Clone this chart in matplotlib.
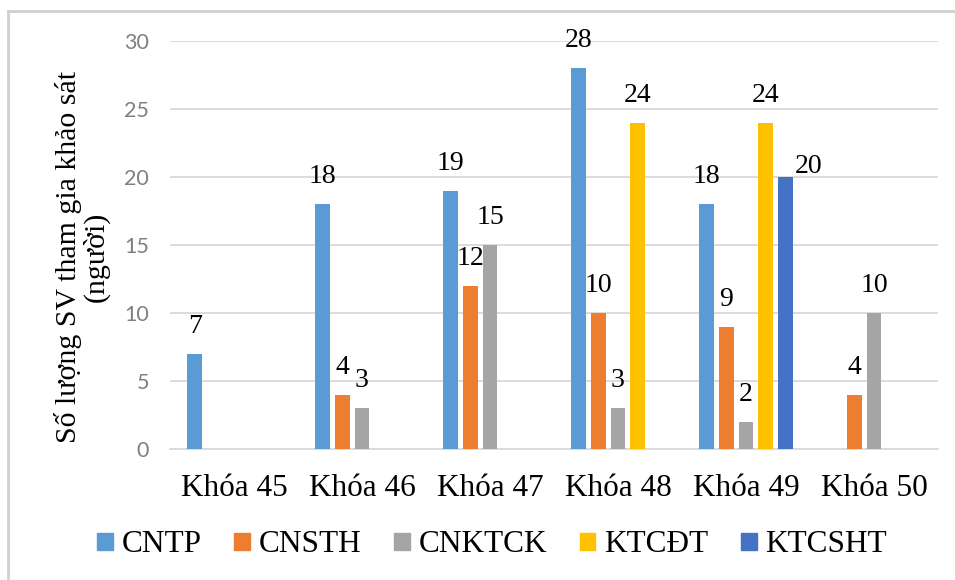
import matplotlib
matplotlib.use("Agg")
import numpy as np
from matplotlib import pyplot as plt
from matplotlib.font_manager import FontProperties
from matplotlib.lines import Line2D
from matplotlib.patches import Patch

categories = ["Khóa 45", "Khóa 46", "Khóa 47", "Khóa 48", "Khóa 49", "Khóa 50"]
series_names = ["CNTP", "CNSTH", "CNKTCK", "KTCĐT", "KTCSHT"]
cntp = [7, 18, 19, 28, 18, 0]
cnsth = [0, 4, 12, 10, 9, 4]
cnktck = [0, 3, 15, 3, 2, 10]
ktcdt = [0, 0, 0, 24, 24, 0]
ktcsht = [0, 0, 0, 0, 20, 0]
y_ticks = [0, 5, 10, 15, 20, 25, 30]

colors = ["#5B9BD5", "#ED7D31", "#A5A5A5", "#FFC000", "#4472C4"]
serif = "Liberation Serif"
grid_color = "#d9d9d9"

# label nudges (points) for labels Excel moved off the default spot
label_nudge = {(4, 4): (17, -12)}

fig = plt.figure(figsize=(9.55, 5.8), dpi=100)
ax = fig.add_axes([170 / 955, 1 - 449 / 580, 768 / 955, 408 / 580])

x = np.arange(len(categories))
pitch = 0.154
width = 0.117
all_series = [cntp, cnsth, cnktck, ktcdt, ktcsht]
for i, values in enumerate(all_series):
    pos = x + (i - 2) * pitch
    ax.bar(pos, values, width=width, color=colors[i], zorder=3)
    for j, v in enumerate(values):
        if v == 0:
            continue
        dx, dy = label_nudge.get((i, j), (0, 0))
        ax.annotate(str(v), (pos[j], v), xytext=(dx, 15 + dy),
                    textcoords="offset points", ha="center", va="baseline",
                    fontsize=20, family=serif, color="black", zorder=4)

ax.set_xlim(-0.5, len(categories) - 0.5)
ax.set_ylim(0, 30)
ax.set_yticks(y_ticks)
ax.set_xticks(x)
ax.set_xticklabels(categories, family=serif, fontsize=22.5)
ax.tick_params(axis="x", length=0, pad=18)
ax.tick_params(axis="y", length=0, pad=15, labelsize=15.5, labelcolor="#7f7f7f")
for lab in ax.get_yticklabels():
    lab.set_family("Lato")
ax.grid(axis="y", color=grid_color, linewidth=1.3, zorder=0)
for side in ["left", "right", "top"]:
    ax.spines[side].set_visible(False)
ax.spines["bottom"].set_color(grid_color)
ax.spines["bottom"].set_linewidth(1.3)

fig.text(82 / 955, 1 - 257 / 580, "Số lượng SV tham gia khảo sát\n(người)",
         rotation=90, ha="center", va="center", multialignment="center",
         fontsize=21.5, family=serif, linespacing=1.05)

handles = [Patch(color=c) for c in colors]
fig.legend(handles, series_names, loc="center", bbox_to_anchor=(492 / 955, 1 - 545 / 580),
           ncol=5, frameon=False, prop=FontProperties(family=serif, size=22.5),
           handlelength=0.5, handleheight=0.5, handletextpad=0.28,
           columnspacing=1.05, borderpad=0, borderaxespad=0)

# outer frame (only the top and left edges are visible in the crop)
fig.add_artist(Line2D([8 / 955, 8 / 955], [0, 1 - 11 / 580], color="#d0d0d0", linewidth=2,
                      transform=fig.transFigure))
fig.add_artist(Line2D([8 / 955, 1], [1 - 11 / 580, 1 - 11 / 580], color="#d0d0d0", linewidth=2,
                      transform=fig.transFigure))

fig.savefig("out.png", dpi=100)
